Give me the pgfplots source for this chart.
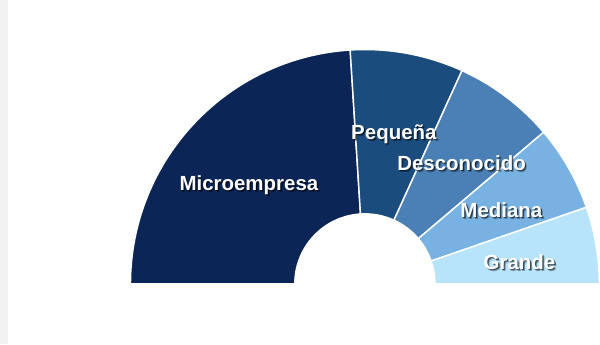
\documentclass[border=0pt]{standalone}
\usepackage{pgfplots}
\pgfplotsset{compat=1.18}
\usepackage{fontspec}
\setmainfont{Liberation Sans}
\usetikzlibrary{calc}
\definecolor{cMicro}{HTML}{0C2557}
\definecolor{cPeq}{HTML}{1B4C7E}
\definecolor{cDes}{HTML}{4A80B5}
\definecolor{cMed}{HTML}{78B2E3}
\definecolor{cGra}{HTML}{B8E4FB}
\definecolor{cBar}{HTML}{F2F2F2}
% data (share of total, %)
\def\vMicro{48.0}
\def\vPeq{15.6}
\def\vDes{14.0}
\def\vMed{11.8}
\def\vGra{10.6}
\pgfmathsetmacro\tot{\vMicro+\vPeq+\vDes+\vMed+\vGra}
\pgfmathsetmacro\aA{180}
\pgfmathsetmacro\aB{\aA-180*\vMicro/\tot}
\pgfmathsetmacro\aC{\aB-180*\vPeq/\tot}
\pgfmathsetmacro\aD{\aC-180*\vDes/\tot}
\pgfmathsetmacro\aE{\aD-180*\vMed/\tot}
\pgfmathsetmacro\aF{\aE-180*\vGra/\tot}
\newcommand\wedgeseg[3]{\fill[#3,draw=white,line width=1.2bp] ($(axis cs:309,54)+(#1:194bp)$) arc[start angle=#1,end angle=#2,radius=194bp] -- ($(axis cs:309,54)+(#2:58bp)$) arc[start angle=#2,end angle=#1,radius=58bp] -- cycle;}
\newcommand\seglabel[3]{%
  \node[text=black,opacity=0.3,font=\bfseries\fontsize{17}{19}\selectfont,inner sep=0pt] at ($(axis cs:#1,#2)+(1.6bp,-1.6bp)$) {#3};
  \node[text=black,opacity=0.55,font=\bfseries\fontsize{17}{19}\selectfont,inner sep=0pt] at ($(axis cs:#1,#2)+(0.9bp,-1bp)$) {#3};
  \node[text=white,font=\bfseries\fontsize{17}{19}\selectfont,inner sep=0pt] at (axis cs:#1,#2) {#3};}
\begin{document}
\begin{tikzpicture}
\begin{axis}[width=600bp,height=299bp,scale only axis,
  xmin=0,xmax=600,ymin=0,ymax=299,hide axis,clip=false]
\fill[cBar] (axis cs:7,4) rectangle (axis cs:14,289);
\wedgeseg{\aA}{\aB}{cMicro}
\wedgeseg{\aB}{\aC}{cPeq}
\wedgeseg{\aC}{\aD}{cDes}
\wedgeseg{\aD}{\aE}{cMed}
\wedgeseg{\aE}{\aF}{cGra}
\seglabel{213}{136}{Microempresa}
\seglabel{333}{178}{Pequeña}
\seglabel{389}{154}{Desconocido}
\seglabel{422}{115}{Mediana}
\seglabel{437}{72}{Grande}
\end{axis}
\end{tikzpicture}
\end{document}
